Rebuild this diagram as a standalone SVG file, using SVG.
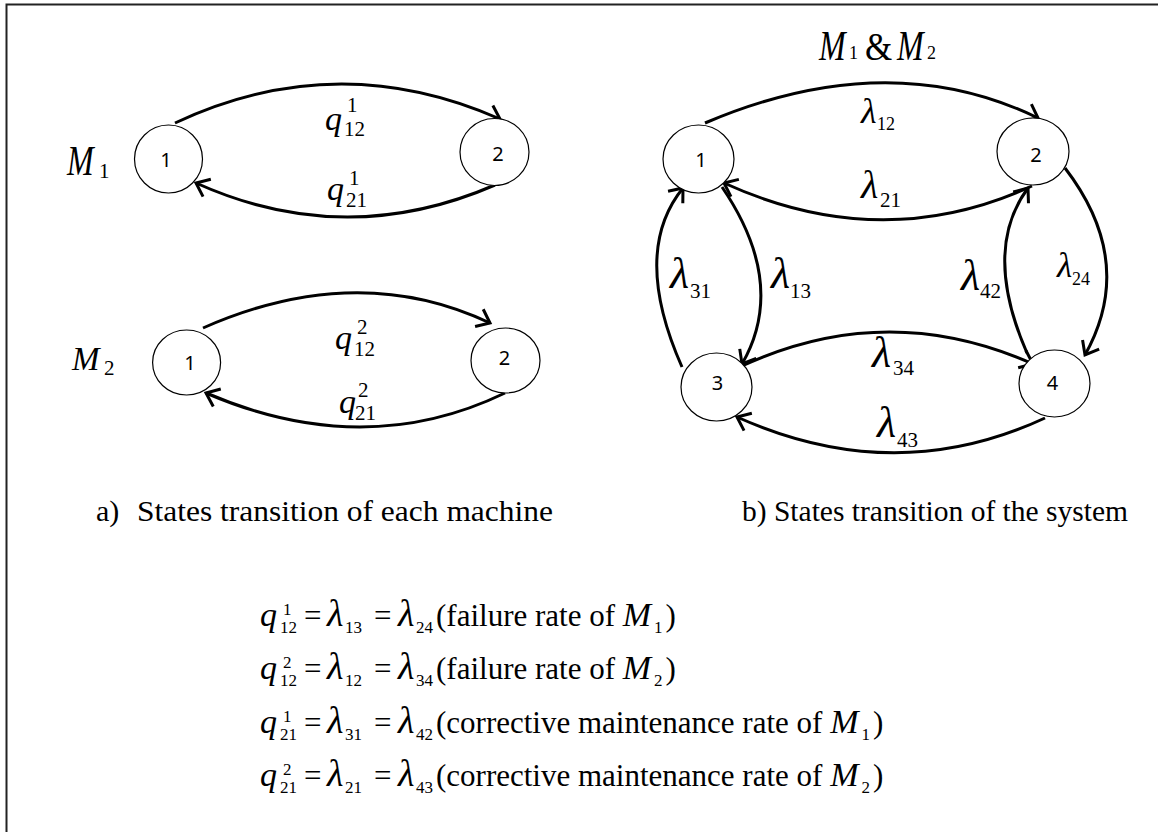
<svg xmlns="http://www.w3.org/2000/svg" width="1158" height="832" viewBox="0 0 1158 832">
<style>
.t{font-family:"Liberation Serif","Times New Roman",serif;fill:#000}
.i{font-style:italic}
.n{font-family:"Noto Sans","Open Sans",sans-serif;font-size:20px;text-anchor:middle;fill:#000}
.c{fill:#fff;stroke:#000;stroke-width:1.2}
.e{fill:none;stroke:#000;stroke-width:3}
.b{stroke:#222;stroke-width:2;fill:none}
.L{font-style:italic;font-size:44px}
.Ls{font-style:italic;font-size:38px}
.q{font-style:italic;font-size:34px}
.m{font-style:italic;font-size:34px}
</style>
<defs>
<marker id="ah" markerUnits="userSpaceOnUse" markerWidth="20" markerHeight="24" viewBox="-16 -12 20 24" refX="0" refY="0" orient="auto">
<path d="M-12,-9.5 L0,0 L-12,9.5" fill="none" stroke="#000" stroke-width="3"/>
</marker>
</defs>
<rect width="1158" height="832" fill="#fff"/>
<path class="b" d="M6.5,832 L6.5,4.5 L1158,4.5"/>

<g id="connectors">
<path class="e" d="M175,123 Q337,47 500,119" marker-end="url(#ah)"/>
<path class="e" d="M495,185 Q345,250 196,183" marker-end="url(#ah)"/>
<path class="e" d="M203,328 Q357,260 490,323" marker-end="url(#ah)"/>
<path class="e" d="M505,393 Q364,461 206,393" marker-end="url(#ah)"/>
<path class="e" d="M705,123 Q888,45 1038,118" marker-end="url(#ah)"/>
<path class="e" d="M1032,186 Q882,255 724,183" marker-end="url(#ah)"/>
<path class="e" d="M722,187 Q788,284 742,364" marker-end="url(#ah)"/>
<path class="e" d="M682,367 Q631,252 683,188" marker-end="url(#ah)"/>
<path class="e" d="M1065,168 Q1137,262 1085,355" marker-end="url(#ah)"/>
<path class="e" d="M1027,353 Q982,250 1028,188" marker-end="url(#ah)"/>
<path class="e" d="M742,366 Q887,299 1033,364" marker-end="url(#ah)"/>
<path class="e" d="M1045,418 Q895,488 737,417" marker-end="url(#ah)"/>
</g>

<g id="edge-labels" class="t">
<text x="325" y="130" class="q">q</text><text x="347" y="112" font-size="21">1</text><text x="344" y="136" font-size="21">12</text>
<text x="327" y="200" class="q">q</text><text x="349" y="185" font-size="21">1</text><text x="346" y="207" font-size="21">21</text>
<text x="335" y="349" class="q">q</text><text x="357" y="334" font-size="21">2</text><text x="354" y="356" font-size="21">12</text>
<text x="339" y="413" class="q">q</text><text x="358" y="397" font-size="21">2</text><text x="355" y="420" font-size="21">21</text>

<text x="861" y="123" class="i" font-size="36">λ</text><text x="877" y="130" font-size="18">12</text>
<text x="861" y="198" class="i" font-size="40">λ</text><text x="880" y="207" font-size="21">21</text>
<text x="670" y="288" class="L">λ</text><text x="690" y="298" font-size="21">31</text>
<text x="771" y="288" class="L">λ</text><text x="790" y="298" font-size="21">13</text>
<text x="961" y="290" class="L">λ</text><text x="980" y="298" font-size="21">42</text>
<text x="1057" y="277" class="i" font-size="35">λ</text><text x="1072" y="285" font-size="18">24</text>
<text x="872" y="367" class="L">λ</text><text x="893" y="375" font-size="21">34</text>
<text x="877" y="437" class="L">λ</text><text x="897" y="447" font-size="21">43</text>
</g>

<g id="machine-labels" class="t">
<text transform="translate(67,175) scale(1,1.3)" font-size="32" class="i">M</text><text x="99" y="178" font-size="21">1</text>
<text transform="translate(72,370) scale(1,1.05)" font-size="33" class="i">M</text><text x="104" y="375" font-size="21">2</text>
<text transform="translate(819,60) scale(1,1.3)" font-size="32" class="i">M</text><text x="849" y="59" font-size="18">1</text>
<text transform="translate(865,60) scale(1,1.15)" font-size="35">&amp;</text>
<text transform="translate(897,60) scale(1,1.3)" font-size="32" class="i">M</text><text x="927" y="59" font-size="18">2</text>
</g>

<g id="m1-s1"><ellipse class="c" cx="168.5" cy="159" rx="34" ry="34"/><text class="n" x="166" y="167">1</text></g>
<g id="m1-s2"><ellipse class="c" cx="494.5" cy="152" rx="34.5" ry="33.5"/><text class="n" x="498" y="161">2</text></g>
<g id="m2-s1"><ellipse class="c" cx="186.6" cy="362.5" rx="34" ry="32.5"/><text class="n" x="190" y="370">1</text></g>
<g id="m2-s2"><ellipse class="c" cx="505.5" cy="360.5" rx="34.5" ry="32.5"/><text class="n" x="504.5" y="365">2</text></g>

<g id="sys-s1"><ellipse class="c" cx="698.5" cy="159" rx="35.5" ry="34"/><text class="n" x="701" y="167">1</text></g>
<g id="sys-s2"><ellipse class="c" cx="1033" cy="151.5" rx="36" ry="33.5"/><text class="n" x="1036" y="162">2</text></g>
<g id="sys-s3"><ellipse class="c" cx="716.5" cy="387" rx="35.5" ry="34"/><text class="n" x="717.5" y="390">3</text></g>
<g id="sys-s4"><ellipse class="c" cx="1054.5" cy="383.5" rx="35.5" ry="33.5"/><text class="n" x="1052.5" y="390">4</text></g>

<g id="captions" class="t" font-size="30">
<text x="96" y="521">a)</text>
<text x="137" y="521" textLength="416" lengthAdjust="spacingAndGlyphs">States transition of each machine</text>
<text x="742" y="521" textLength="386" lengthAdjust="spacingAndGlyphs">b) States transition of the system</text>
</g>

<g id="equations" class="t" font-size="31">
<text x="260" y="626" class="q" font-size="32">q</text><text x="283" y="615" font-size="17">1</text><text x="280" y="633" font-size="17">12</text>
<text x="304" y="626">=</text>
<text x="327" y="626" class="Ls">λ</text><text x="345" y="633" font-size="17">13</text>
<text x="374" y="626">=</text>
<text x="398" y="626" class="Ls">λ</text><text x="416" y="633" font-size="17">24</text>
<text x="436" y="626">(failure rate of <tspan class="m">M</tspan><tspan font-size="17" dx="3" dy="7">1</tspan><tspan dx="3" dy="-7">)</tspan></text>

<text x="260" y="679" class="q" font-size="32">q</text><text x="283" y="668" font-size="17">2</text><text x="280" y="686" font-size="17">12</text>
<text x="304" y="679">=</text>
<text x="327" y="679" class="Ls">λ</text><text x="345" y="686" font-size="17">12</text>
<text x="374" y="679">=</text>
<text x="398" y="679" class="Ls">λ</text><text x="416" y="686" font-size="17">34</text>
<text x="436" y="679">(failure rate of <tspan class="m">M</tspan><tspan font-size="17" dx="3" dy="7">2</tspan><tspan dx="3" dy="-7">)</tspan></text>

<text x="260" y="733" class="q" font-size="32">q</text><text x="283" y="722" font-size="17">1</text><text x="280" y="740" font-size="17">21</text>
<text x="304" y="733">=</text>
<text x="327" y="733" class="Ls">λ</text><text x="345" y="740" font-size="17">31</text>
<text x="374" y="733">=</text>
<text x="398" y="733" class="Ls">λ</text><text x="416" y="740" font-size="17">42</text>
<text x="436" y="733">(corrective maintenance rate of <tspan class="m">M</tspan><tspan font-size="17" dx="3" dy="7">1</tspan><tspan dx="3" dy="-7">)</tspan></text>

<text x="260" y="786" class="q" font-size="32">q</text><text x="283" y="775" font-size="17">2</text><text x="280" y="793" font-size="17">21</text>
<text x="304" y="786">=</text>
<text x="327" y="786" class="Ls">λ</text><text x="345" y="793" font-size="17">21</text>
<text x="374" y="786">=</text>
<text x="398" y="786" class="Ls">λ</text><text x="416" y="793" font-size="17">43</text>
<text x="436" y="786">(corrective maintenance rate of <tspan class="m">M</tspan><tspan font-size="17" dx="3" dy="7">2</tspan><tspan dx="3" dy="-7">)</tspan></text>
</g>
</svg>
